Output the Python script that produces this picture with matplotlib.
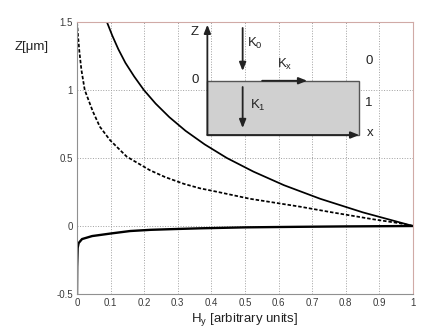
import matplotlib
matplotlib.use("Agg")
import matplotlib.pyplot as plt

plt.rcParams['font.family'] = ['Liberation Sans', 'DejaVu Sans']

# field profile in the upper medium (solid)
z_solid = [0.0, 0.1, 0.2, 0.3, 0.4, 0.5, 0.6, 0.7, 0.8, 0.9, 1.0, 1.1, 1.2, 1.3, 1.4, 1.5]
h_solid = [1.0, 0.851, 0.724, 0.616, 0.525, 0.446, 0.380, 0.323, 0.275, 0.234,
           0.199, 0.170, 0.144, 0.123, 0.105, 0.089]

# second profile (dashed)
z_dash = [0.0, 0.02, 0.05, 0.1, 0.142, 0.2, 0.252, 0.277, 0.31, 0.36, 0.41, 0.51, 0.632,
          0.73, 0.843, 1.0, 1.15, 1.285, 1.4, 1.5]
h_dash = [1.0, 0.961, 0.88, 0.76, 0.664, 0.515, 0.416, 0.366, 0.318, 0.262, 0.217, 0.148,
          0.098, 0.068, 0.047, 0.023, 0.013, 0.007, 0.003, 0.0]

# decay inside the metal (z < 0)
z_low = [-0.5, -0.3, -0.16, -0.125, -0.096, -0.074, -0.054, -0.037, -0.028, -0.022,
         -0.017, -0.01, -0.006, -0.003, 0.0]
h_low = [0.0, 0.0005, 0.002, 0.005, 0.015, 0.045, 0.104, 0.158, 0.22, 0.297,
         0.366, 0.5, 0.66, 0.8, 1.0]

x_ticks = [0, 0.1, 0.2, 0.3, 0.4, 0.5, 0.6, 0.7, 0.8, 0.9, 1]
x_labels = ['0', '0.1', '0.2', '0.3', '0.4', '0.5', '0.6', '0.7', '0.8', '0.9', '1']
y_ticks = [-0.5, 0, 0.5, 1, 1.5]
y_labels = ['-0.5', '0', '0.5', '1', '1.5']

fig = plt.figure(figsize=(4.36, 3.32), dpi=100)
ax = fig.add_axes([77 / 436, 38 / 332, 336 / 436, 272 / 332])

ax.plot(h_solid, z_solid, color='black', lw=1.25)
ax.plot(h_dash, z_dash, color='black', lw=1.25, ls=(0, (2.0, 1.1)))
ax.plot(h_low, z_low, color='black', lw=1.7)

ax.set_xlim(0, 1)
ax.set_ylim(-0.5, 1.5)
ax.set_xticks(x_ticks)
ax.set_xticklabels(x_labels)
ax.set_yticks(y_ticks)
ax.set_yticklabels(y_labels)
ax.tick_params(labelsize=7, colors='#3a3a3a', length=0, pad=3)
ax.grid(True, ls=':', color='#a0a0a0', lw=0.7)
for s in ax.spines.values():
    s.set_color('#d0aaa6')
    s.set_linewidth(0.8)
ax.spines['left'].set_color('#909090')
ax.spines['bottom'].set_color('#909090')

ax.set_xlabel(r'H$_\mathregular{y}$ [arbitrary units]', fontsize=9.5, color='#222222', labelpad=2)
fig.text(15 / 436, 1 - 47 / 332, 'Z[\u03bcm]', fontsize=9.5, color='#222222', ha='left', va='center')

# inset sketch of the geometry
ax.add_patch(plt.Rectangle((0.388, 0.669), 0.452, 0.399, facecolor='#d0d0d0',
                           edgecolor='#555555', lw=1.0, zorder=3))
arr = dict(arrowstyle='-|>,head_length=0.5,head_width=0.2', color='#222222', lw=1.3,
           shrinkA=0, shrinkB=0)
ax.annotate('', xy=(0.388, 1.48), xytext=(0.388, 0.669), arrowprops=arr, zorder=4)
ax.annotate('', xy=(0.84, 0.669), xytext=(0.388, 0.669), arrowprops=arr, zorder=4)
ax.annotate('', xy=(0.493, 1.14), xytext=(0.493, 1.456), arrowprops=arr, zorder=4)
ax.annotate('', xy=(0.685, 1.068), xytext=(0.551, 1.068), arrowprops=arr, zorder=4)
ax.annotate('', xy=(0.493, 0.72), xytext=(0.493, 1.022), arrowprops=arr, zorder=4)

tk = dict(fontsize=9.5, color='#222222', ha='center', va='center', zorder=5)
ax.text(0.351, 1.426, 'Z', **tk)
ax.text(0.351, 1.074, '0', **tk)
ax.text(0.869, 1.213, '0', **tk)
ax.text(0.869, 0.904, '1', **tk)
ax.text(0.872, 0.684, 'x', **tk)
ax.text(0.505, 1.34, r'K$_\mathregular{0}$', fontsize=9.5, color='#222222', ha='left', va='center', zorder=5)
ax.text(0.595, 1.185, r'K$_\mathregular{x}$', fontsize=9.5, color='#222222', ha='left', va='center', zorder=5)
ax.text(0.515, 0.89, r'K$_\mathregular{1}$', fontsize=9.5, color='#222222', ha='left', va='center', zorder=5)

fig.savefig('out.png', dpi=100)
